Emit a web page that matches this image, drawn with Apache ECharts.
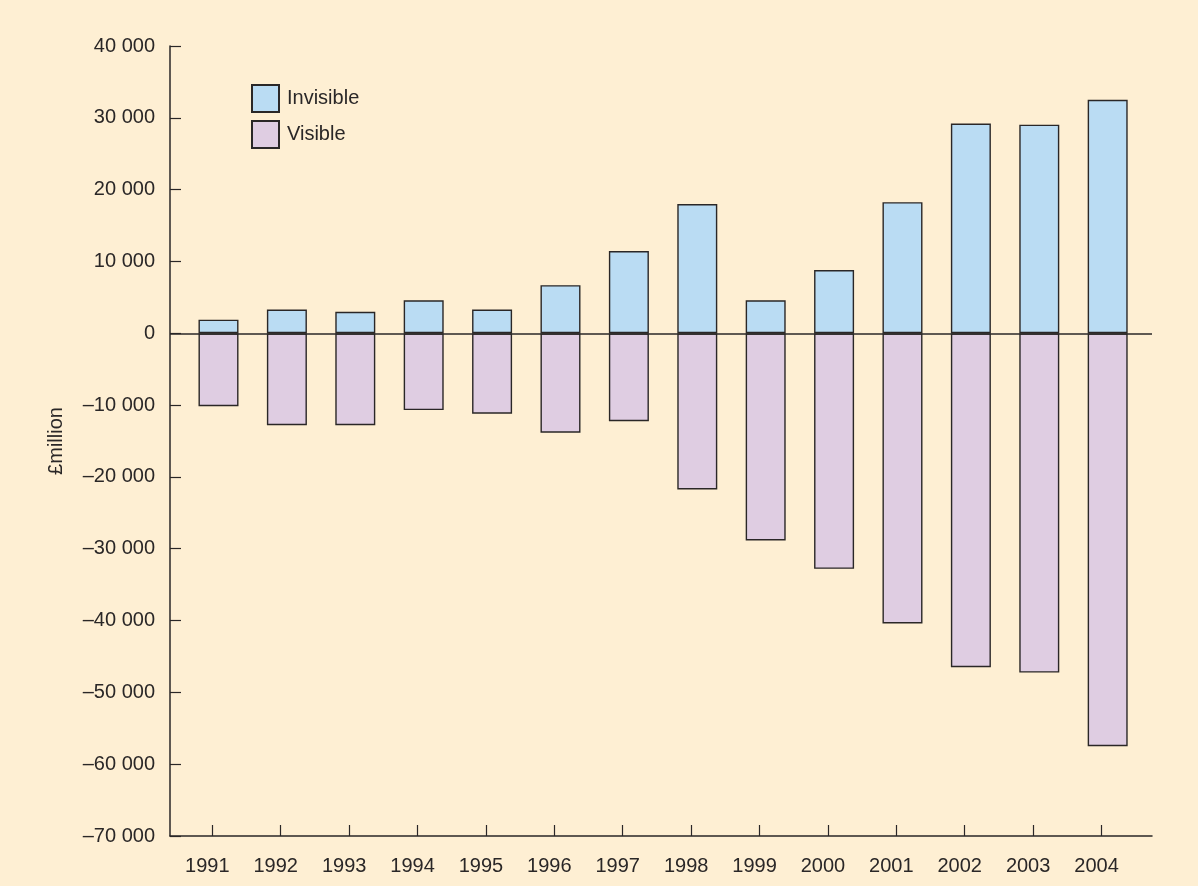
<!DOCTYPE html>
<html>
<head>
<meta charset="utf-8">
<script src="https://cdn.jsdelivr.net/npm/echarts@6/dist/echarts.min.js"></script>
<style>
  html, body { margin: 0; padding: 0; background: #FEEFD3; }
  #chart { width: 1198px; height: 886px; }
</style>
</head>
<body>
<div id="chart"></div>
<script>
// UK balance of trade, £million
const years = [1991, 1992, 1993, 1994, 1995, 1996, 1997, 1998, 1999, 2000, 2001, 2002, 2003, 2004];
const invisible = [1900, 3300, 3000, 4600, 3300, 6700, 11450, 18000, 4600, 8800, 18250, 29200, 29050, 32500];
const visible = [-10150, -12800, -12800, -10700, -11200, -13850, -12250, -21750, -28850, -32800, -40400, -46500, -47250, -57500];
const seriesNames = ['Invisible', 'Visible'];
const yMin = -70000, yMax = 40000, yStep = 10000;

const ink = '#2a2727';
const font = "'Liberation Sans', Arial, Helvetica, sans-serif";
const tickShift = 0.09; // year ticks sit slightly left of the bar centres

function fmt(v) {
  const s = String(Math.abs(v)).replace(/\B(?=(\d{3})+(?!\d))/g, ' ');
  return v < 0 ? '\u2013' + s : s;
}

const chart = echarts.init(document.getElementById('chart'), null, { renderer: 'canvas' });

const barBorder = { borderColor: ink, borderWidth: 1.4 };

chart.setOption({
  backgroundColor: '#FEEFD3',
  animation: false,
  textStyle: { fontFamily: font, color: ink },
  grid: { left: 170, right: 46, top: 46, bottom: 50, containLabel: false },
  legend: {
    orient: 'vertical',
    left: 246,
    top: 79,
    itemWidth: 27,
    itemHeight: 27,
    itemGap: 7,
    icon: 'rect',
    data: seriesNames,
    textStyle: { fontFamily: font, fontSize: 20, color: ink, padding: [0, 0, 0, 3] }
  },
  xAxis: {
    type: 'value',
    min: years[0] - 0.709,
    max: years[years.length - 1] + 0.648,
    splitLine: { show: false },
    axisLine: { show: true, onZero: false, lineStyle: { color: ink, width: 1.5 } },
    axisTick: {
      show: true, inside: true, length: 11,
      customValues: years.map(y => y - tickShift),
      lineStyle: { color: ink, width: 1.2 }
    },
    axisLabel: {
      customValues: years.map(y => y - tickShift),
      formatter: v => String(Math.round(v)),
      margin: 20,
      fontSize: 20,
      color: ink,
      fontFamily: font,
      padding: [0, 10, 0, 0]
    }
  },
  yAxis: {
    type: 'value',
    min: yMin,
    max: yMax,
    interval: yStep,
    name: '£million',
    nameLocation: 'middle',
    nameRotate: 90,
    nameGap: 104,
    nameTextStyle: { fontSize: 20, color: ink, fontFamily: font },
    splitLine: { show: false },
    axisLine: { show: true, onZero: false, lineStyle: { color: ink, width: 1.5 } },
    axisTick: { show: true, inside: true, length: 11, lineStyle: { color: ink, width: 1.2 } },
    axisLabel: {
      formatter: fmt,
      margin: 15,
      fontSize: 20,
      color: ink,
      fontFamily: font
    }
  },
  series: [
    {
      name: seriesNames[0],
      type: 'bar',
      stack: 'trade',
      barWidth: 40,
      data: years.map((y, i) => [y, invisible[i]]),
      itemStyle: Object.assign({ color: '#BADCF3' }, barBorder),
      markLine: {
        silent: true,
        symbol: 'none',
        label: { show: false },
        lineStyle: { color: ink, width: 1.5, type: 'solid' },
        data: [{ yAxis: 0 }]
      },
      z: 2
    },
    {
      name: seriesNames[1],
      type: 'bar',
      stack: 'trade',
      barWidth: 40,
      data: years.map((y, i) => [y, visible[i]]),
      itemStyle: Object.assign({ color: '#DFCDE2' }, barBorder),
      z: 2
    }
  ]
});
</script>
</body>
</html>
